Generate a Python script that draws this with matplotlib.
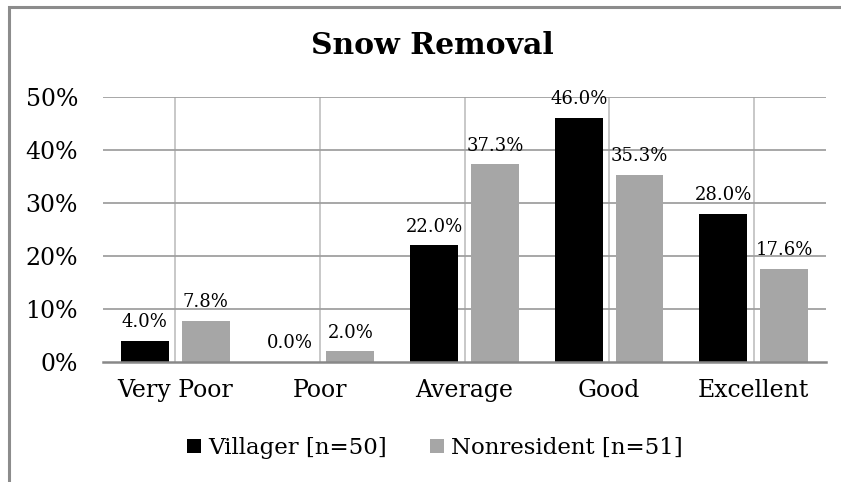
import numpy as np
import matplotlib.pyplot as plt
from matplotlib.patches import Rectangle

# Datos
categories = ["Very Poor", "Poor", "Average", "Good", "Excellent"]
villager = [4.0, 0.0, 22.0, 46.0, 28.0]
nonresident = [7.8, 2.0, 37.3, 35.3, 17.6]
series_names = ["Villager [n=50]", "Nonresident [n=51]"]
yticks = [0, 10, 20, 30, 40, 50]

plt.rcParams['font.family'] = ['DejaVu Serif']

fig = plt.figure(figsize=(8.41, 4.82), dpi=100)
ax = fig.add_axes([103 / 841, 1 - 362 / 482, (826 - 103) / 841, (362 - 97) / 482])

x = np.arange(len(categories))
w = 0.33
off = 0.21
b1 = ax.bar(x - off, villager, w, color='black', label=series_names[0], zorder=3)
b2 = ax.bar(x + off, nonresident, w, color='#A6A6A6', label=series_names[1], zorder=3)

# Etiquetas de datos
for bars, vals in [(b1, villager), (b2, nonresident)]:
    for b, v in zip(bars, vals):
        ax.annotate(f"{v:.1f}%", (b.get_x() + b.get_width() / 2, v),
                    xytext=(0, 7), textcoords='offset points',
                    ha='center', va='bottom', fontsize=13, zorder=4)

ax.set_xlim(-0.5, len(categories) - 0.5)
ax.set_ylim(0, 50)
ax.set_yticks(yticks)
ax.set_yticklabels([f"{t}%" for t in yticks], fontsize=17)
ax.set_xticks(x)
ax.set_xticklabels(categories, fontsize=17)
ax.tick_params(axis='x', length=0, pad=12)
ax.tick_params(axis='y', length=0, pad=18)

# Rejilla
for t in yticks[1:]:
    ax.axhline(t, color='#A0A0A0', lw=1.3, zorder=1)
ax.grid(axis='x', color='#C4C4C4', lw=1.3, zorder=1)
ax.set_axisbelow(True)
for s in ['top', 'right', 'left']:
    ax.spines[s].set_visible(False)
ax.spines['bottom'].set_color('#888888')
ax.spines['bottom'].set_linewidth(1.8)
ax.spines['bottom'].set_zorder(5)

fig.text(432 / 841, 1 - 45 / 482, "Snow Removal", ha='center', va='center',
         fontsize=21.5, fontweight='bold')

fig.legend(handles=[b1, b2], loc='center', bbox_to_anchor=(435 / 841, 1 - 448 / 482),
           ncol=2, frameon=False, fontsize=16.5, handlelength=0.6, handleheight=0.6,
           handletextpad=0.3, columnspacing=1.9, borderpad=0)

# Borde del gráfico
fig.patches.append(Rectangle((8.5 / 841, -0.1), 1.2, 1 - 7 / 482 + 0.1,
                             transform=fig.transFigure, fill=False,
                             edgecolor='#8C8C8C', lw=2.2))

plt.savefig("out.png")
